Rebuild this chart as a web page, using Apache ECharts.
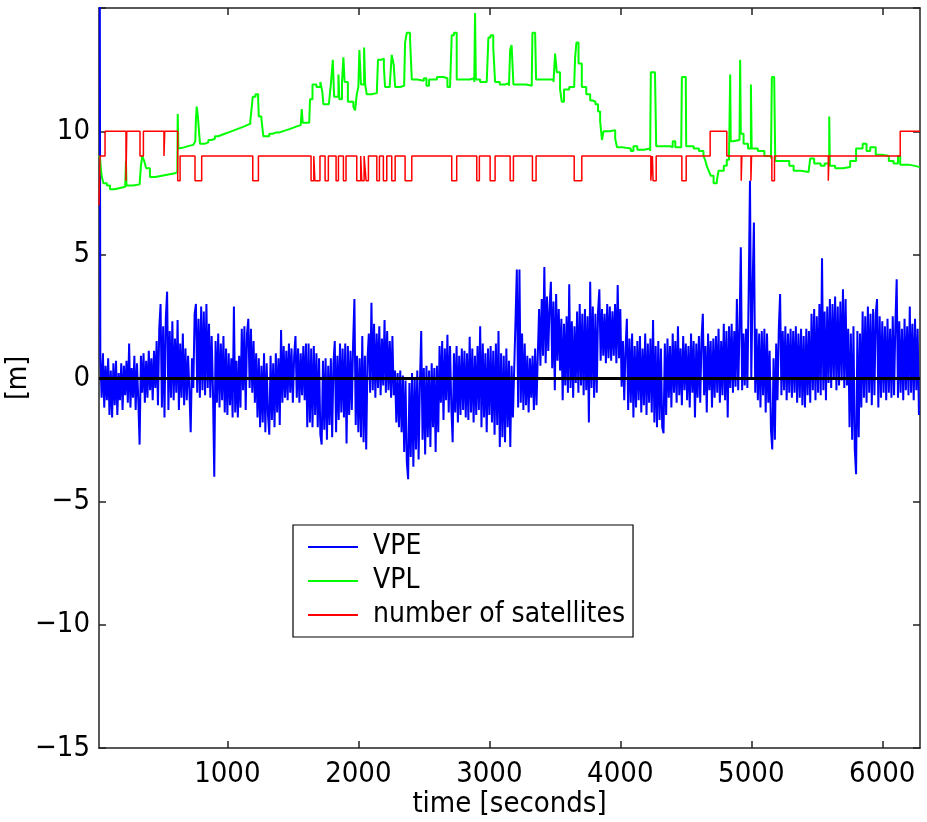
<!DOCTYPE html>
<html>
<head>
<meta charset="utf-8">
<script src="https://cdn.jsdelivr.net/npm/echarts@6/dist/echarts.min.js"></script>
<style>
  html, body { margin: 0; padding: 0; background: #fff; }
  #chart { width: 927px; height: 822px; }
</style>
</head>
<body>
<div id="chart"></div>
<script>
// Vertical position error (m), sampled every 10 s from t = 20 s
const vpeStart = 20;
const vpeStep = 10;
const vpeValues = [
  40, 0.9, -0.8, 1.0, -1.2, 0.5, -0.9, 0.8, -1.5, 0.3,
  -1.6, 0.6, -1.1, 0.7, -1.5, 0.2, -0.9, 0.6, -1.3, 0.5,
  -0.7, 0.7, -1.0, 1.4, -1.2, 0.4, -0.8, 0.9, -1.3, 0.6,
  -0.9, -2.7, 0.9, -0.6, 1.0, -1.0, 0.7, -0.8, 1.1, -0.5,
  0.8, -0.9, 1.1, -0.4, 1.5, -1.1, 2.0, 3.0, -1.2, 2.1,
  -1.6, 2.4, 3.5, -1.3, 1.9, -0.8, 2.3, -0.9, 1.6, -0.6,
  2.35, -1.3, 1.4, -0.8, 1.8, -1.1, 1.2, -0.9, 0.9, -0.5,
  -2.2, 0.8, -0.4, 2.6, 3.0, -0.6, 2.4, -0.8, 2.9, -0.5,
  2.7, -0.7, 3.0, -0.4, 2.2, -0.8, 1.7, -0.5, -4.0, 1.5,
  -1.0, 1.8, -1.2, 1.4, -0.9, 1.7, -1.4, 1.2, -1.5, 1.0,
  -1.1, 0.8, -1.6, 2.9, -1.4, 0.7, -1.6, 0.9, -1.2, 2.0,
  -0.5, 2.1, -1.3, 1.8, 2.4, -0.4, 2.0, -0.6, 1.5, -1.0,
  1.0, -1.6, 0.8, -2.0, 0.5, -1.8, 1.0, -2.2, 0.6, -1.5,
  -2.3, 0.9, -1.7, 0.6, -2.0, 1.0, -1.4, 0.8, -1.9, 1.95,
  -1.0, 1.3, -0.8, 1.1, -0.9, 1.4, -0.6, 1.2, -1.0, 0.9,
  1.7, -0.8, 1.2, -1.0, 1.0, -0.7, 1.3, -0.9, 1.4, -2.0,
  1.4, -1.8, 1.2, -2.0, 1.3, -1.5, 1.0, -2.0, 0.8, -2.3,
  -2.7, 0.7, -2.1, 0.8, -2.5, 0.5, -1.9, 0.8, -2.4, 0.6,
  1.5, -2.2, 0.9, -1.7, 1.4, -1.4, 1.2, -1.6, 1.4, -2.65,
  1.3, -1.5, 1.1, -1.3, 1.4, 3.2, -1.9, 0.9, -2.2, 0.8,
  -2.4, 1.7, -2.6, 0.9, -2.9, 0.8, 1.8, -0.6, 3.05, -0.5,
  2.2, -0.8, 1.8, -0.4, 2.1, -0.7, 1.6, -0.3, 2.35, -0.6,
  1.9, -0.5, 1.5, -0.8, 1.7, -0.7, 0.3, -1.8, 0.2, -2.0,
  0.3, -2.2, 0.1, -3.0, -0.1, -3.4, -4.1, -0.2, -3.2, 0.2,
  -3.6, 0.0, -2.9, 0.3, -3.3, -0.2, 1.9, -2.5, 0.4, -3.1,
  0.5, -2.4, 0.3, -2.8, 0.6, -2.0, 0.4, -3.0, 0.5, -2.2,
  1.3, -1.0, 1.5, -1.7, 1.2, -0.9, 1.75, -1.4, 1.3, -1.2,
  -2.6, 1.0, -1.4, 1.3, -1.8, 0.9, -1.5, 1.2, -1.3, 1.1,
  -1.6, 1.0, -1.7, 1.67, -1.4, 1.2, -1.8, 0.9, -1.5, 1.3,
  -1.3, 2.1, -2.0, 1.4, -1.6, 1.0, -2.2, 1.2, -1.5, 1.3,
  -1.8, 1.1, -2.3, 1.4, -1.9, 1.9, -2.8, 1.0, -2.4, 0.9,
  -2.6, 1.2, -2.0, 0.7, -2.8, 0.5, -1.6, 0.4, 2.35, 4.4,
  -1.2, 4.4, -1.0, 1.8, -1.3, 1.4, -1.1, 0.9, -1.4, 0.8,
  -0.8, 0.9, -1.3, 1.2, -1.1, 0.9, 2.8, 0.5, 3.2, 0.9,
  4.5, 0.6, 3.3, 1.1, 2.9, 3.9, 0.4, 3.1, -0.5, 3.4,
  0.7, 2.8, 0.3, 2.4, -0.9, 2.2, -0.3, 2.5, -0.6, 3.8,
  -0.4, 2.3, -0.8, 2.1, -0.2, 2.7, -0.6, 3.0, -0.3, 2.6,
  -0.7, 2.8, -0.5, 2.5, -1.8, 3.9, -0.4, 2.9, -0.8, 2.6,
  -0.6, 2.7, 3.6, 0.7, 2.8, 0.9, 2.6, 0.6, 3.0, 0.8,
  2.9, 0.7, 2.7, 0.9, 3.0, 0.6, 3.77, 0.8, 2.8, -0.35,
  1.5, -0.9, 1.2, 2.4, -1.3, 1.6, -1.0, 1.8, -1.6, 1.3,
  -1.2, 1.5, -0.9, 1.7, -1.4, 1.2, -1.1, 1.8, -1.5, 1.4,
  -1.0, 1.6, -1.4, 2.35, -1.8, 1.3, -2.0, 1.5, -1.7, 1.2,
  -2.0, -2.24, 1.4, -1.5, 1.6, -0.8, 1.3, -1.2, 1.8, -0.6,
  1.5, -1.0, 2.1, -0.7, 1.2, -1.1, 1.7, -0.5, 1.4, -0.9,
  1.3, -1.2, 1.8, -0.6, 1.5, -1.6, 1.4, -0.8, 1.7, -1.0,
  1.6, 2.6, -0.7, 1.3, -1.4, 1.8, -0.5, 1.5, -1.2, 1.6,
  -0.8, 1.7, -0.6, 2.0, -1.0, 1.5, -0.7, 2.2, -0.9, 1.9,
  -1.6, 2.1, -0.4, 2.2, -0.6, 1.9, -0.35, 3.2, -0.5, 2.0,
  5.3, -0.5, 1.8, -0.3, 2.0, -0.4, 3.5, 8.0, 0.0, 3.7,
  6.3, -0.6, 2.0, -0.9, 1.8, -1.2, 1.9, -0.7, 2.0, -1.4,
  1.8, -1.0, 1.1, -2.1, -2.9, 0.8, -2.5, 1.4, -0.9, 2.0,
  3.4, -0.7, 1.9, -0.5, 2.1, -0.9, 1.8, -0.6, 2.0, -0.8,
  1.9, -0.6, 2.1, -1.0, 1.8, -0.8, 2.0, -1.1, 1.7, -1.2,
  2.0, -0.7, 1.9, -1.0, 2.6, -0.5, 2.8, -0.9, 2.5, -0.6,
  3.0, -0.7, 4.85, -0.5, 2.7, -0.9, 2.9, -0.2, 3.2, -0.4,
  3.0, 0.0, 3.3, -0.5, 2.9, -0.3, 3.1, -0.1, 3.6, -0.4,
  3.2, -0.3, 2.0, -2.0, 1.8, -2.5, 2.1, -2.9, -3.9, 1.9,
  -2.4, 1.8, -1.2, 2.7, -0.8, 2.5, -1.0, 2.9, -0.6, 2.6,
  -1.1, 2.8, -0.7, 2.6, 3.2, -1.2, 2.5, -0.8, 2.3, -0.6,
  2.1, -0.9, 2.4, -0.6, 2.0, -0.8, 2.5, -0.7, 2.2, 4.0,
  -0.8, 2.3, -0.6, 2.0, -0.9, 2.4, -0.5, 2.1, -0.7, 2.9,
  -0.6, 2.2, -0.9, 2.4, -0.5, 2.0, -1.5
];

// Vertical protection level (m): [time s, value], value holds until the next entry
const vplPoints = [
  [20, 9.0], [28, 8.9], [34, 8.5], [40, 8.2], [53, 7.9], [80, 7.8], [104, 7.65], [140, 7.7], [180, 7.75],
  [220, 7.75], [226, 8.8], [230, 7.8], [280, 7.85], [330, 7.9], [340, 8.6], [350, 9.0], [365, 8.8],
  [380, 8.5], [409, 8.15], [450, 8.2], [500, 8.25], [550, 8.3], [600, 8.35], [618, 8.4], [621, 10.7],
  [626, 9.3], [640, 9.35], [670, 9.4], [700, 9.45], [740, 9.5], [755, 9.6], [760, 10.5], [766, 11.0], [775, 10.6],
  [785, 9.9], [791, 9.5], [830, 9.55], [855, 9.65], [880, 9.7], [905, 9.8], [930, 9.85], [955, 9.9], [980, 9.95],
  [1005, 10.0], [1030, 10.05], [1055, 10.1], [1080, 10.15], [1105, 10.2], [1130, 10.25], [1150, 10.3],
  [1175, 10.4], [1190, 10.4], [1194, 11.4], [1215, 11.5], [1235, 11.3], [1240, 10.6],
  [1260, 10.5], [1275, 9.8], [1320, 9.9], [1345, 9.95], [1370, 9.95], [1395, 10.0], [1420, 10.05], [1450, 10.1],
  [1479, 10.15], [1505, 10.2], [1530, 10.25],
  [1560, 10.3], [1568, 10.9], [1575, 10.35], [1625, 10.35], [1631, 11.3], [1650, 11.9], [1680, 11.8],
  [1710, 12.0], [1725, 11.6], [1733, 11.1], [1775, 11.15], [1790, 11.9], [1805, 12.9], [1815, 11.4],
  [1848, 12.3], [1855, 11.3], [1875, 12.0], [1886, 13.0], [1895, 12.0], [1920, 11.2], [1962, 11.0],
  [1975, 10.85], [1988, 11.5], [2000, 11.8], [2008, 13.3], [2020, 11.9], [2044, 13.4], [2052, 11.9],
  [2064, 11.5], [2100, 11.55], [2141, 11.6], [2150, 12.9], [2175, 12.95], [2195, 12.6], [2204, 11.8],
  [2240, 11.9], [2255, 13.1], [2270, 12.7], [2281, 11.8], [2320, 11.85], [2350, 12.0], [2357, 13.6],
  [2370, 14.0], [2395, 13.7], [2408, 12.1], [2450, 12.05], [2500, 12.15], [2520, 11.85], [2540, 12.1],
  [2600, 12.2], [2650, 12.15], [2680, 11.8], [2700, 11.85], [2713, 13.9], [2730, 14.0], [2751, 12.1],
  [2800, 12.1], [2850, 12.15], [2885, 12.0], [2891, 14.8], [2897, 12.1], [2930, 12.0], [2980, 11.95],
  [2993, 13.8], [3010, 13.9], [3030, 13.4], [3044, 12.0], [3080, 11.9], [3120, 11.95], [3150, 11.85],
  [3159, 13.3], [3170, 13.5], [3184, 11.9], [3230, 11.9], [3280, 11.85], [3324, 12.0], [3329, 14.0],
  [3350, 13.9], [3357, 12.1], [3400, 12.1], [3450, 12.1], [3490, 12.0], [3502, 13.15], [3515, 12.4],
  [3540, 11.7], [3553, 11.2], [3570, 11.7], [3610, 11.8], [3648, 11.9], [3655, 13.0], [3665, 13.6],
  [3681, 12.75], [3706, 11.8], [3740, 11.5], [3770, 11.25], [3790, 11.2], [3810, 11.1], [3830, 10.8],
  [3846, 10.4], [3860, 9.65], [3872, 10.0], [3920, 10.05], [3961, 9.7], [3975, 9.35], [4020, 9.3], [4080, 9.2], [4100, 9.4],
  [4130, 9.25], [4180, 9.3], [4228, 9.2], [4233, 12.4], [4265, 12.3], [4274, 9.4], [4320, 9.4],
  [4380, 9.35], [4400, 9.6], [4420, 9.35], [4465, 9.35], [4470, 12.2], [4500, 12.0], [4503, 9.4],
  [4560, 9.3], [4600, 9.2], [4635, 9.0], [4650, 8.8], [4660, 8.6], [4675, 8.4], [4690, 8.2], [4712, 7.9], [4737, 8.0],
  [4750, 8.4], [4790, 8.6], [4813, 8.85], [4830, 9.0], [4839, 12.3], [4843, 9.6], [4860, 9.65],
  [4910, 9.6], [4915, 12.9], [4920, 9.9], [4941, 9.5], [4975, 9.3], [4997, 11.9], [5003, 9.3],
  [5050, 9.2], [5100, 9.0], [5150, 8.9], [5157, 12.2], [5175, 12.1], [5183, 8.8], [5250, 8.8], [5290, 8.6],
  [5323, 8.4], [5380, 8.35], [5437, 8.4], [5450, 8.9], [5480, 8.7], [5530, 8.6], [5560, 8.7],
  [5595, 10.6], [5600, 8.6], [5640, 8.5], [5700, 8.55], [5755, 8.8], [5800, 9.3], [5850, 9.5],
  [5880, 9.2], [5908, 9.35], [5950, 9.05], [6000, 9.0], [6050, 8.8], [6086, 8.7], [6120, 9.0],
  [6137, 8.65], [6200, 8.6], [6250, 8.55], [6286, 8.55]
];

// Number of satellites in view: [time s, count], count holds until the next entry
const satPoints = [
  [20, 7], [28, 9], [66, 10], [226, 8], [232, 10], [333, 9], [359, 10], [516, 9], [522, 10],
  [621, 8], [639, 9], [753, 8], [804, 9], [1194, 8], [1237, 9], [1639, 8], [1660, 9], [1668, 8],
  [1707, 9], [1746, 8], [1771, 9], [1830, 8], [1848, 9], [1886, 8], [1906, 9], [1988, 8], [2018, 9],
  [2026, 8], [2044, 9], [2059, 8], [2077, 9], [2141, 8], [2161, 9], [2191, 8], [2217, 9], [2255, 8],
  [2281, 9], [2357, 8], [2408, 9], [2713, 8], [2751, 9], [2904, 8], [2924, 9], [3006, 8], [3044, 9],
  [3159, 8], [3184, 9], [3329, 8], [3357, 9], [3648, 8], [3706, 9], [4233, 8], [4245, 9], [4250, 8],
  [4274, 9], [4470, 8], [4503, 9], [4686, 10], [4813, 9], [4923, 8], [4928, 9], [4997, 8], [5002, 9],
  [5157, 8], [5177, 9], [5588, 8], [5593, 9], [6137, 10], [6286, 10]
];

const xTickValues = [1000, 2000, 3000, 4000, 5000, 6000];
const seriesNames = ['VPE', 'VPL', 'number of satellites'];

const FONT = '"Liberation Sans Narrow", "DejaVu Sans Condensed", "Liberation Sans", sans-serif';
const AXIS_COLOR = '#222';

const vpeData = vpeValues.map((v, i) => [vpeStart + i * vpeStep, v]);

const chart = echarts.init(document.getElementById('chart'), null, { renderer: 'canvas' });

const boxAxisX = (pos, showLabels) => ({
  type: 'value',
  position: pos,
  min: 20,
  max: 6288,
  nameMoveOverlap: false,
  axisLine: { show: true, onZero: false, lineStyle: { color: AXIS_COLOR, width: 1.5 } },
  axisTick: { show: true, inside: true, length: 7, lineStyle: { color: AXIS_COLOR, width: 1.5 }, customValues: xTickValues },
  axisLabel: {
    show: showLabels, customValues: xTickValues, margin: 12,
    color: '#000', fontSize: 29, fontFamily: FONT,
    formatter: v => String(v)
  },
  splitLine: { show: false }
});

const boxAxisY = (pos, showLabels) => ({
  type: 'value',
  position: pos,
  min: -15,
  max: 15,
  interval: 5,
  nameMoveOverlap: false,
  axisLine: { show: true, onZero: false, lineStyle: { color: AXIS_COLOR, width: 1.5 } },
  axisTick: { show: true, inside: true, length: 7, lineStyle: { color: AXIS_COLOR, width: 1.5 } },
  axisLabel: {
    show: showLabels, margin: 9, color: '#000', fontSize: 29, fontFamily: FONT,
    formatter: v => (v >= 15 ? '' : String(v).replace('-', '\u2212'))
  },
  splitLine: { show: false }
});

const xBottom = boxAxisX('bottom', true);
xBottom.name = 'time [seconds]';
xBottom.nameLocation = 'middle';
xBottom.nameGap = 42;
xBottom.nameTextStyle = { color: '#000', fontSize: 29, fontFamily: FONT };

const yLeft = boxAxisY('left', true);
yLeft.name = '[m]';
yLeft.nameLocation = 'middle';
yLeft.nameGap = 66;
yLeft.nameTextStyle = { color: '#000', fontSize: 28, fontFamily: FONT };

chart.setOption({
  animation: false,
  backgroundColor: '#fff',
  grid: { left: 99, top: 8, right: 7, bottom: 74, containLabel: false, outerBoundsMode: 'none' },
  xAxis: [xBottom, boxAxisX('top', false)],
  yAxis: [yLeft, boxAxisY('right', false)],
  legend: {
    data: seriesNames,
    orient: 'vertical',
    left: 293,
    top: 525,
    padding: [6, 8, 6, 15],
    itemGap: 2,
    itemWidth: 50,
    itemHeight: 2,
    icon: 'rect',
    backgroundColor: '#fff',
    borderColor: '#000',
    borderWidth: 1.2,
    borderRadius: 0,
    selectedMode: false,
    textStyle: { color: '#000', fontSize: 28, fontFamily: FONT, padding: [0, 0, 0, 10], lineHeight: 32 }
  },
  series: [
    {
      name: 'VPE', type: 'line', data: vpeData, showSymbol: false, symbol: 'none',
      lineStyle: { color: '#0000ff', width: 2 }, itemStyle: { color: '#0000ff' },
      clip: true, z: 2
    },
    {
      name: 'zero', type: 'line', data: [], symbol: 'none', z: 3, silent: true,
      markLine: {
        silent: true, symbol: ['none', 'none'], label: { show: false },
        lineStyle: { color: '#000', width: 3, type: 'solid' },
        emphasis: { disabled: true },
        data: [{ yAxis: 0 }]
      }
    },
    {
      name: 'VPL', type: 'line', step: 'end', data: vplPoints, showSymbol: false, symbol: 'none',
      lineStyle: { color: '#00ff00', width: 2 }, itemStyle: { color: '#00ff00' },
      clip: true, z: 4
    },
    {
      name: 'number of satellites', type: 'line', step: 'end', data: satPoints,
      showSymbol: false, symbol: 'none',
      lineStyle: { color: '#ff0000', width: 1.5 }, itemStyle: { color: '#ff0000' },
      clip: true, z: 5
    }
  ]
});
</script>
</body>
</html>
